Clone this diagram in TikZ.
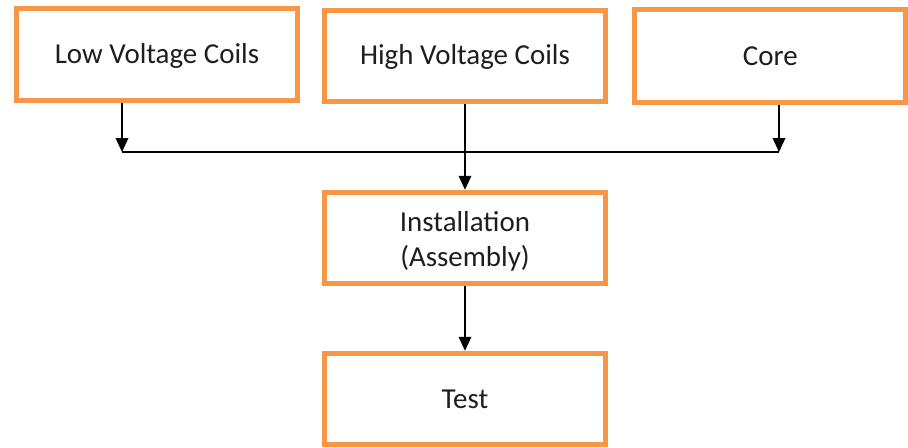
\documentclass[tikz,border=0pt]{standalone}
\usepackage{fontspec}
\setmainfont{Carlito}
\usetikzlibrary{arrows.meta}
\definecolor{boxorange}{HTML}{F79646}
\definecolor{textdark}{HTML}{1E1E1E}
\begin{document}
\begin{tikzpicture}[x=0.75pt,y=-0.75pt,
        block/.style = {
            draw = boxorange,
            line width = 3.75pt,
            minimum width = 211pt,
            minimum height = 68.6pt,
            inner sep = 0pt,
            align = center,
            text = textdark,
            text height = 19.5pt,
            text depth = 6pt,
            font = \fontsize{21.7}{26.25}\selectfont
        },
        link/.style = {line width = 1.1pt, -{Triangle[width=9.5pt,length=10.5pt]}}
    ]
    \useasboundingbox (0,0) rectangle (908,447);
    \node[block] (lv) at (157,54.5) {Low Voltage Coils};
    \node[block] (hv) at (465,55.75) {High Voltage Coils};
    \node[block, minimum width = 203pt, minimum height = 69.4pt] (core) at (770.25,56.25) {Core};
    \node[block, text height = 49pt] (inst) at (465,238) {Installation\\(Assembly)};
    \node[block] (test) at (465,399) {Test};
    \coordinate (jl) at (122,152);
    \coordinate (jr) at (779,152);
    \draw[link] (lv.south -| jl) -- (jl);
    \draw[link] (core.south -| jr) -- (jr);
    \draw[line width = 1.1pt] (jl) -- (jr);
    \draw[link] (hv) -- (inst);
    \draw[link] (inst) -- (test);
\end{tikzpicture}
\end{document}
